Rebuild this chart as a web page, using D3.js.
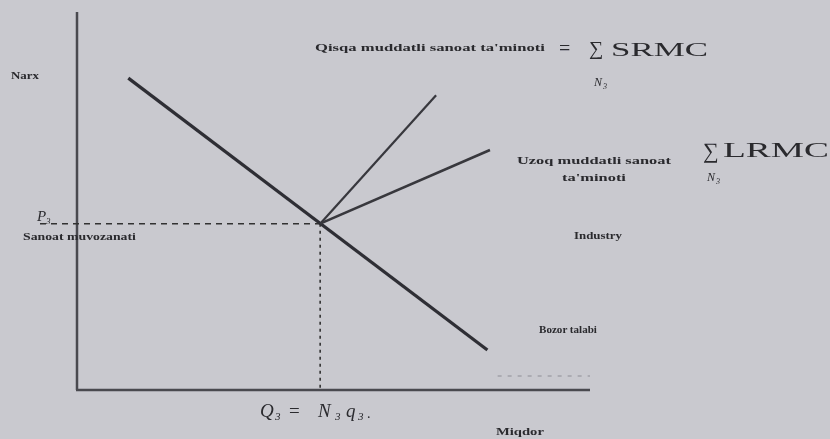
<!DOCTYPE html>
<html>
<head>
<meta charset="utf-8">
<script src="https://cdn.jsdelivr.net/npm/d3@7"></script>
<style>
  body { margin: 0; background: #c9c9cf; }
  svg { display: block; }
  text { font-family: "Liberation Serif", "DejaVu Serif", serif; fill: #2a2a2e; }
</style>
</head>
<body>
<svg id="chart" width="830" height="439"></svg>
<script>
// data, in chart units (0..100 on both axes)
var demand = [[10, 82.5], [80, 10.6]];
var equilibrium = [47.4, 44];
var srmcEnd = [70, 78];
var lrmcEnd = [80.5, 63.5];
var ghostLine = [[82, 3.7], [100, 3.7]];

var svg = d3.select("#chart");
var x = d3.scaleLinear().domain([0, 100]).range([77, 590]);
var y = d3.scaleLinear().domain([0, 100]).range([390, 12]);

var line = d3.line().x(d => x(d[0])).y(d => y(d[1]));

// the scan is soft, blur everything a little
svg.append("defs").append("filter").attr("id", "soft")
  .append("feGaussianBlur").attr("stdDeviation", 0.55);
var g = svg.append("g").attr("filter", "url(#soft)");

// axes
g.append("line")
  .attr("x1", x(0)).attr("y1", y(100))
  .attr("x2", x(0)).attr("y2", y(0))
  .attr("stroke", "#4a4a50").attr("stroke-width", 2.5);
g.append("line")
  .attr("x1", x(0) - 1).attr("y1", y(0))
  .attr("x2", x(100)).attr("y2", y(0))
  .attr("stroke", "#4a4a50").attr("stroke-width", 2.5);

// dashed guides to the equilibrium
g.append("line")
  .attr("x1", 40).attr("y1", y(equilibrium[1]))
  .attr("x2", x(equilibrium[0])).attr("y2", y(equilibrium[1]))
  .attr("stroke", "#333").attr("stroke-width", 1.5)
  .attr("stroke-dasharray", "6,5");
g.append("line")
  .attr("x1", x(equilibrium[0])).attr("y1", y(equilibrium[1]))
  .attr("x2", x(equilibrium[0])).attr("y2", y(0))
  .attr("stroke", "#333").attr("stroke-width", 1.6)
  .attr("stroke-dasharray", "3,4");

// faint dashed segment near the axis end
g.append("path")
  .attr("d", line(ghostLine))
  .attr("fill", "none")
  .attr("stroke", "#8e8e96").attr("stroke-width", 1.2)
  .attr("stroke-dasharray", "4,6");

// demand
g.append("path")
  .attr("d", line(demand))
  .attr("fill", "none")
  .attr("stroke", "#2e2e34").attr("stroke-width", 3.2);

// short run and long run supply
g.append("path")
  .attr("d", line([equilibrium, srmcEnd]))
  .attr("fill", "none")
  .attr("stroke", "#37373d").attr("stroke-width", 2.2);
g.append("path")
  .attr("d", line([equilibrium, lrmcEnd]))
  .attr("fill", "none")
  .attr("stroke", "#37373d").attr("stroke-width", 2.6);

// text stretched sideways to the width seen in the scan
function wideText(parent, d) {
  var t = parent.append("text")
    .attr("font-size", d.s + "px")
    .attr("font-weight", d.b ? "bold" : "normal")
    .text(d.t);
  var len = t.node().getComputedTextLength();
  t.attr("transform", "translate(" + [d.x, d.y] + ") scale(" + (d.w / len) + ",1)");
  return t;
}

var small = [
  {t: "Narx", x: 11, y: 79, w: 28, s: 10, b: true},
  {t: "Qisqa muddatli sanoat ta'minoti", x: 315, y: 51, w: 230, s: 11, b: true},
  {t: "Uzoq muddatli sanoat", x: 517, y: 164, w: 154, s: 11, b: true},
  {t: "ta'minoti", x: 562, y: 181, w: 64, s: 11, b: true},
  {t: "Sanoat muvozanati", x: 23, y: 240, w: 113, s: 10, b: true},
  {t: "Industry", x: 574, y: 239, w: 48, s: 10, b: true},
  {t: "Bozor talabi", x: 539, y: 333, w: 58, s: 10, b: true},
  {t: "Miqdor", x: 496, y: 435, w: 48, s: 10, b: true},
  {t: "SRMC", x: 611, y: 56, w: 97, s: 19, b: false},
  {t: "LRMC", x: 723, y: 157, w: 106, s: 20, b: false}
];
small.forEach(d => wideText(g, d));

// formulas
g.append("text").attr("x", 559).attr("y", 55).attr("font-size", "20px").text("=");
g.append("text").attr("x", 589).attr("y", 55).attr("font-size", "20px").text("\u2211");
g.append("text").attr("x", 594).attr("y", 86).attr("font-size", "12px").attr("font-style", "italic").text("N");
g.append("text").attr("x", 603).attr("y", 89).attr("font-size", "8px").attr("font-style", "italic").text("3");

g.append("text").attr("x", 703).attr("y", 158).attr("font-size", "22px").text("\u2211");
g.append("text").attr("x", 707).attr("y", 181).attr("font-size", "12px").attr("font-style", "italic").text("N");
g.append("text").attr("x", 716).attr("y", 184).attr("font-size", "8px").attr("font-style", "italic").text("3");

g.append("text").attr("x", 37).attr("y", 221).attr("font-size", "15px").attr("font-style", "italic").text("P");
g.append("text").attr("x", 46).attr("y", 224).attr("font-size", "9px").attr("font-style", "italic").text("3");

// Q3 = N3 q3 under the axis
var qParts = [
  {t: "Q", x: 260, y: 417, s: 19, i: true},
  {t: "3", x: 275, y: 420, s: 11, i: true},
  {t: "=", x: 289, y: 417, s: 19, i: false},
  {t: "N", x: 318, y: 417, s: 19, i: true},
  {t: "3", x: 335, y: 420, s: 11, i: true},
  {t: "q", x: 346, y: 417, s: 19, i: true},
  {t: "3", x: 358, y: 420, s: 11, i: true},
  {t: ".", x: 367, y: 418, s: 14, i: false}
];
g.append("g").selectAll("text")
  .data(qParts)
  .enter()
  .append("text")
  .attr("x", d => d.x)
  .attr("y", d => d.y)
  .attr("font-size", d => d.s + "px")
  .attr("font-style", d => d.i ? "italic" : "normal")
  .text(d => d.t);
</script>
</body>
</html>
